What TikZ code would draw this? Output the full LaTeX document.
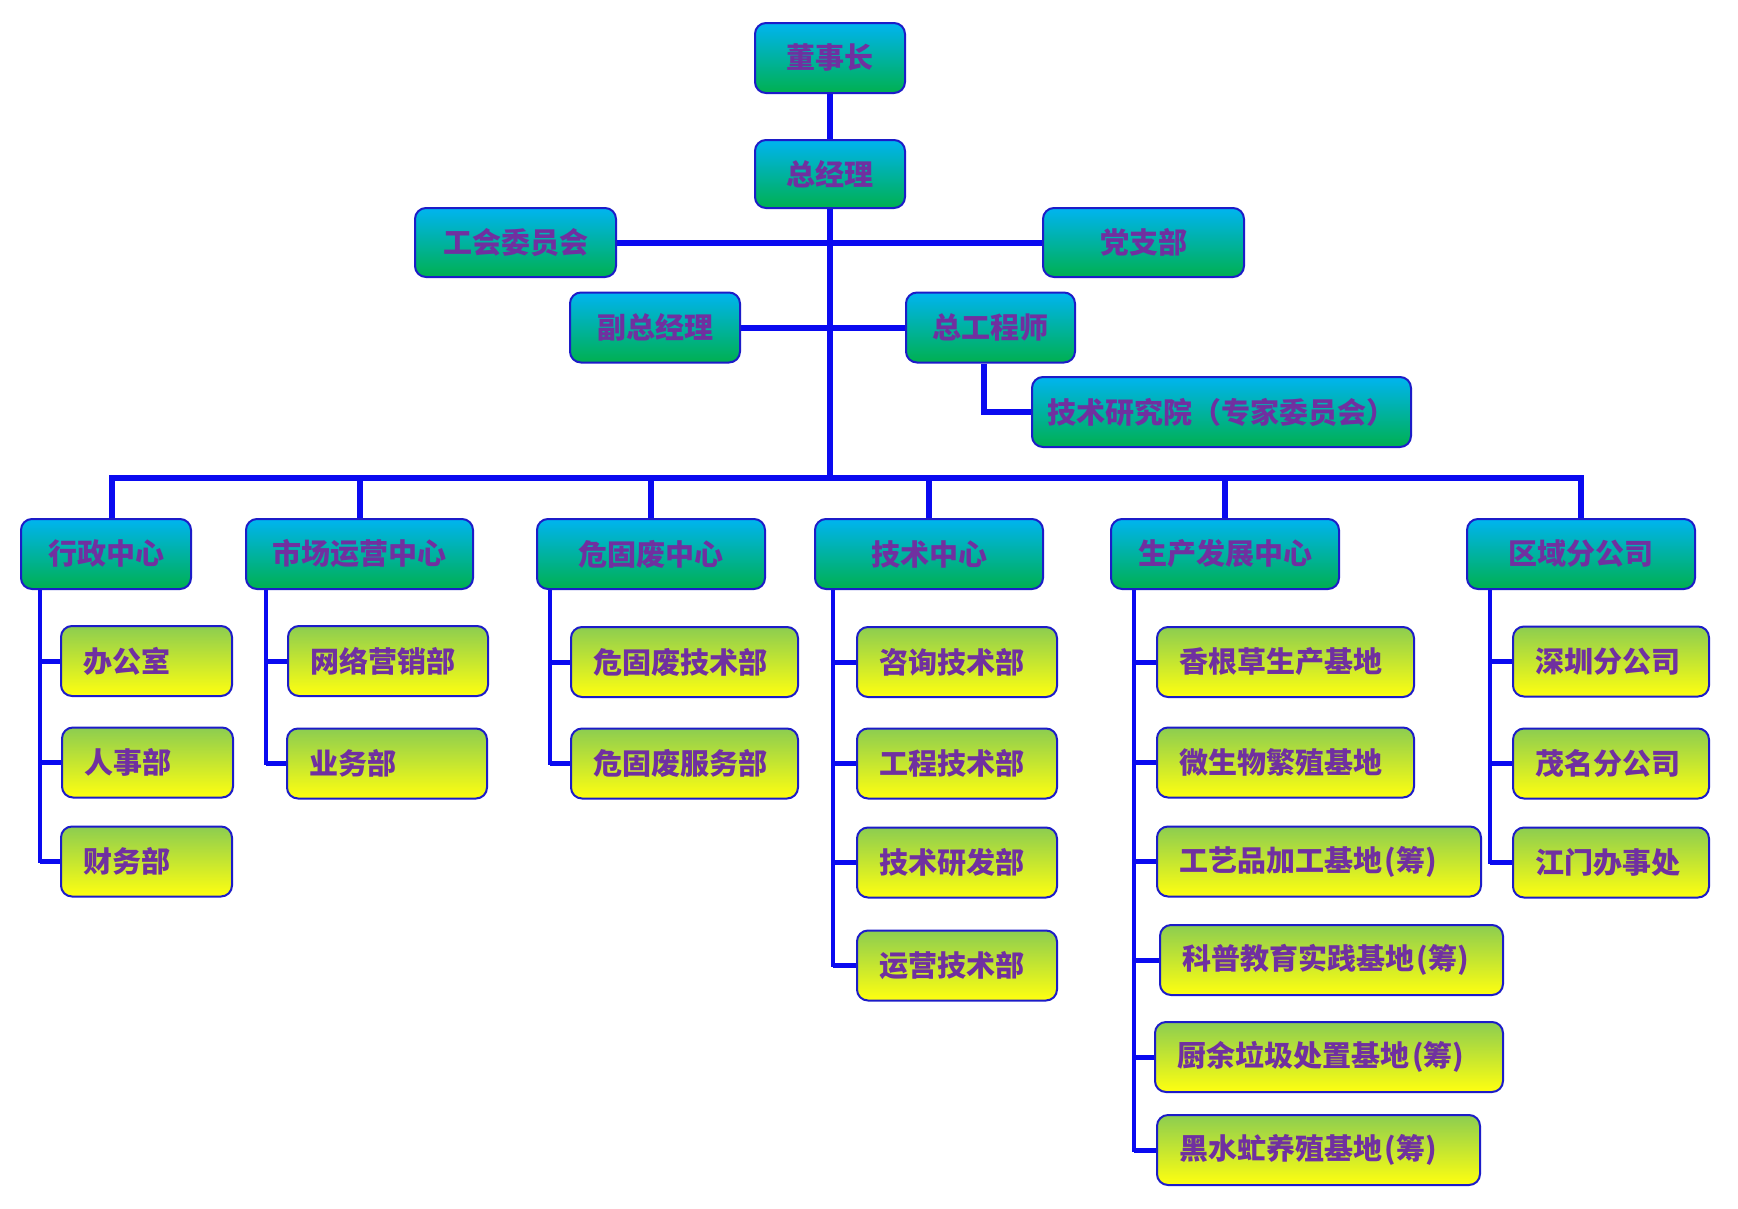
\documentclass[tikz,border=0pt]{standalone}
\usepackage{fontspec}
\newfontfamily\cjk{Noto Sans CJK SC}
\usetikzlibrary{backgrounds,calc}
\definecolor{lineblue}{HTML}{0A0AF0}
\definecolor{boxedge}{HTML}{1C1CC8}
\definecolor{txtpurple}{HTML}{7030A0}
\definecolor{topA}{HTML}{00B4F0}
\definecolor{topB}{HTML}{00B050}
\definecolor{subA}{HTML}{8CCD50}
\definecolor{subB}{HTML}{FFFF10}
\newcommand\subtxt[2]{\makebox[#1pt][l]{#2}}
\newcommand\chou{\hspace{3pt}(筹)}
\begin{document}
\begin{tikzpicture}[x=1pt,y=-1pt,
  box/.style={draw=boxedge, line width=2pt, rounded corners=11pt, inner sep=0pt,
    minimum height=70pt, font=\cjk\bfseries\fontsize{29pt}{31pt}\selectfont, text=txtpurple},
  topbox/.style={box, top color=topA, bottom color=topB},
  subbox/.style={box, top color=subA, bottom color=subB, inner xsep=22pt},
  mainline/.style={draw=lineblue, line width=6pt},
  subline/.style={draw=lineblue, line width=3.5pt, line cap=rect},
  stub/.style={draw=lineblue, line width=5pt}]
\useasboundingbox (0,0) rectangle (1738,1208);
% top levels
\node[topbox, minimum width=150pt] (dsz) at (830,58) {董事长};
\node[topbox, minimum width=150pt, minimum height=68pt] (zjl) at (830,174) {总经理};
\node[topbox, minimum width=201pt, minimum height=69pt] (gh) at (515.5,242.5) {工会委员会};
\node[topbox, minimum width=201pt, minimum height=69pt] (dzb) at (1143.5,242.5) {党支部};
\node[topbox, minimum width=170pt] (fzjl) at (655,327.5) {副总经理};
\node[topbox, minimum width=169pt] (zgcs) at (990.5,327.5) {总工程师};
\node[topbox, minimum width=379pt] (jsyjy) at (1221.5,412) {技术研究院（专家委员会）};
% centres
\node[topbox, minimum width=170pt] (xz) at (106,554) {行政中心};
\node[topbox, minimum width=227pt] (sc) at (359.5,554) {市场运营中心};
\node[topbox, minimum width=228pt] (wgf) at (651,554) {危固废中心};
\node[topbox, minimum width=228pt] (jszx) at (929,554) {技术中心};
\node[topbox, minimum width=228pt] (scfz) at (1225,554) {生产发展中心};
\node[topbox, minimum width=228pt] (qy) at (1581,554) {区域分公司};
% departments
\node[subbox, minimum width=171pt] (bgs) at (146.5,661) {\subtxt{127}{办公室}};
\node[subbox, minimum width=171pt] (rsb) at (147.5,762.5) {\subtxt{127}{人事部}};
\node[subbox, minimum width=171pt] (cwb) at (146.5,861.5) {\subtxt{127}{财务部}};
\node[subbox, minimum width=200pt] (wlyx) at (388,661) {\subtxt{156}{网络营销部}};
\node[subbox, minimum width=200pt] (ywb) at (387,763.5) {\subtxt{156}{业务部}};
\node[subbox, minimum width=227pt] (wgfjs) at (684.5,662) {\subtxt{183}{危固废技术部}};
\node[subbox, minimum width=227pt] (wgffw) at (684.5,763.5) {\subtxt{183}{危固废服务部}};
\node[subbox, minimum width=200pt] (zx) at (957,662) {\subtxt{156}{咨询技术部}};
\node[subbox, minimum width=200pt] (gc) at (957,763.5) {\subtxt{156}{工程技术部}};
\node[subbox, minimum width=200pt] (yf) at (957,862.5) {\subtxt{156}{技术研发部}};
\node[subbox, minimum width=200pt] (yy) at (957,965.5) {\subtxt{156}{运营技术部}};
\node[subbox, minimum width=257pt] (xgc) at (1285.5,662) {\subtxt{213}{香根草生产基地}};
\node[subbox, minimum width=257pt] (wsw) at (1285.5,762.5) {\subtxt{213}{微生物繁殖基地}};
\node[subbox, minimum width=324pt] (gyp) at (1319,861.5) {\subtxt{280}{工艺品加工基地\chou}};
\node[subbox, minimum width=343pt] (kp) at (1331.5,960) {\subtxt{299}{科普教育实践基地\chou}};
\node[subbox, minimum width=348pt] (cy) at (1329,1057) {\subtxt{304}{厨余垃圾处置基地\chou}};
\node[subbox, minimum width=323pt] (hsm) at (1318.5,1150) {\subtxt{279}{黑水虻养殖基地\chou}};
\node[subbox, minimum width=196pt] (sz) at (1611,661.5) {\subtxt{152}{深圳分公司}};
\node[subbox, minimum width=196pt] (mm) at (1611,763.5) {\subtxt{152}{茂名分公司}};
\node[subbox, minimum width=196pt] (jm) at (1611,862.5) {\subtxt{152}{江门办事处}};
\coordinate (bus) at (830,478);
\begin{scope}[on background layer]
\fill[white] (0,0) rectangle (1738,1208);
\draw[mainline] (dsz) -- (zjl);
\draw[mainline] (zjl.south) -- (bus);
\draw[mainline] (gh.east) -- (dzb.west);
\draw[mainline] (fzjl.east) -- (zgcs.west);
\draw[mainline] ($(zgcs.south)+(-7,0)$) |- (jsyjy.west);
\draw[mainline] ($(xz.north)+(6,0)$) |- (bus) -| (qy.north);
\draw[mainline] (sc.north) -- (sc.north |- bus);
\draw[mainline] (wgf.north) -- (wgf.north |- bus);
\draw[mainline] (jszx.north) -- (jszx.north |- bus);
\draw[mainline] (scfz.north) -- (scfz.north |- bus);
% group 1
\draw[subline] ($(xz.south west)+(20,0)$) coordinate (v1) -- (v1 |- cwb.west);
\foreach \n in {bgs,rsb,cwb} \draw[stub] (v1 |- \n.west) -- (\n.west);
% group 2
\draw[subline] ($(sc.south west)+(21,0)$) coordinate (v2) -- (v2 |- ywb.west);
\foreach \n in {wlyx,ywb} \draw[stub] (v2 |- \n.west) -- (\n.west);
% group 3
\draw[subline] ($(wgf.south west)+(14,0)$) coordinate (v3) -- (v3 |- wgffw.west);
\foreach \n in {wgfjs,wgffw} \draw[stub] (v3 |- \n.west) -- (\n.west);
% group 4
\draw[subline] ($(jszx.south west)+(19,0)$) coordinate (v4) -- (v4 |- yy.west);
\foreach \n in {zx,gc,yf,yy} \draw[stub] (v4 |- \n.west) -- (\n.west);
% group 5
\draw[subline] ($(scfz.south west)+(24,0)$) coordinate (v5) -- (v5 |- hsm.west);
\foreach \n in {xgc,wsw,gyp,kp,cy,hsm} \draw[stub] (v5 |- \n.west) -- (\n.west);
% group 6
\draw[subline] ($(qy.south west)+(24,0)$) coordinate (v6) -- (v6 |- jm.west);
\foreach \n in {sz,mm,jm} \draw[stub] (v6 |- \n.west) -- (\n.west);
\end{scope}
\end{tikzpicture}
\end{document}
